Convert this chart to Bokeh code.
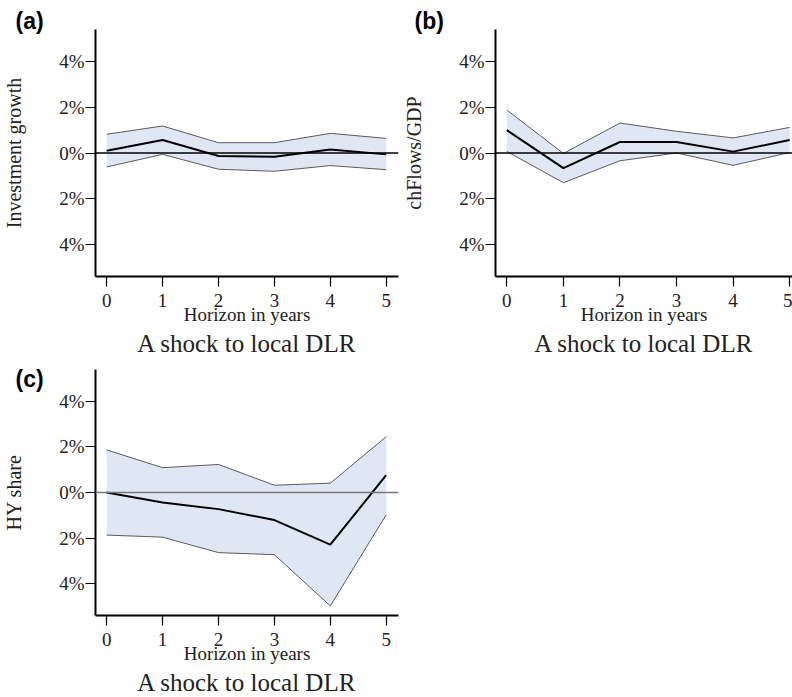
from bokeh.plotting import figure
from bokeh.layouts import column, row
from bokeh.models import Title, FixedTicker, Range1d, Span
from bokeh.embed import file_html
from bokeh.resources import INLINE

horizon = [0, 1, 2, 3, 4, 5]

inv_mean = [0.10, 0.57, -0.13, -0.16, 0.15, -0.06]
inv_upper = [0.82, 1.18, 0.45, 0.45, 0.86, 0.64]
inv_lower = [-0.61, -0.06, -0.71, -0.80, -0.55, -0.73]

flow_mean = [1.00, -0.66, 0.48, 0.48, 0.06, 0.57]
flow_upper = [1.88, -0.02, 1.31, 0.95, 0.66, 1.12]
flow_lower = [0.07, -1.30, -0.34, 0.00, -0.54, 0.02]

hy_mean = [0.00, -0.44, -0.73, -1.21, -2.29, 0.76]
hy_upper = [1.87, 1.09, 1.23, 0.32, 0.41, 2.45]
hy_lower = [-1.87, -1.96, -2.64, -2.73, -4.98, -0.98]

y_ticks = [-4, -2, 0, 2, 4]
y_tick_labels = {-4: "4%", -2: "2%", 0: "0%", 2: "2%", 4: "4%"}

panel_letters = ["(a)", "(b)", "(c)"]
y_titles = ["Investment growth", "chFlows/GDP", "HY share"]
x_title = "Horizon in years"
sub_title = "A shock to local DLR"

SERIF = "Liberation Serif"
FILL = "#dfe6f4"


def make_panel(letter, ytitle, mean, upper, lower, width, height, x_end,
               border_left, border_right, border_top, border_bottom,
               zero_color, zero_width, letter_offset, letter_standoff):
    p = figure(width=width, height=height, output_backend="svg",
               toolbar_location=None,
               x_range=Range1d(-0.2, x_end), y_range=Range1d(-5.4, 5.4),
               min_border_left=border_left, min_border_right=border_right,
               min_border_top=border_top, min_border_bottom=border_bottom,
               title=letter)
    p.outline_line_color = None
    p.background_fill_color = "white"
    p.grid.visible = False

    p.title.align = "left"
    p.title.offset = letter_offset
    p.title.standoff = letter_standoff
    p.title.text_font = "Liberation Sans"
    p.title.text_font_style = "bold"
    p.title.text_font_size = "23px"
    p.title.text_color = "black"

    p.varea(x=horizon, y1=lower, y2=upper, fill_color=FILL)
    p.line(horizon, upper, line_color="#333333", line_width=0.8)
    p.line(horizon, lower, line_color="#333333", line_width=0.8)
    p.add_layout(Span(location=0, dimension="width", line_color=zero_color,
                      line_width=zero_width))
    p.line(horizon, mean, line_color="black", line_width=2)

    for ax in (p.xaxis[0], p.yaxis[0]):
        ax.axis_line_width = 2
        ax.axis_line_color = "black"
        ax.major_tick_line_color = "black"
        ax.major_tick_line_width = 1.2
        ax.major_tick_in = 0
        ax.major_tick_out = 10
        ax.minor_tick_line_color = None
        ax.major_label_text_font = SERIF
        ax.major_label_text_font_size = "19px"
        ax.major_label_text_color = "#222222"
        ax.axis_label_text_font = SERIF
        ax.axis_label_text_font_style = "normal"
        ax.axis_label_text_color = "#222222"

    p.xaxis.ticker = FixedTicker(ticks=horizon)
    p.xaxis.major_label_standoff = 7
    p.xaxis.axis_label = x_title
    p.xaxis.axis_label_text_font_size = "19px"
    p.xaxis.axis_label_standoff = -6

    p.yaxis.ticker = FixedTicker(ticks=y_ticks)
    p.yaxis.major_label_standoff = 1
    p.yaxis.major_label_overrides = y_tick_labels
    p.yaxis.axis_label = ytitle
    p.yaxis.axis_label_text_font_size = "20px"
    p.yaxis.axis_label_standoff = 31

    p.add_layout(Title(text=sub_title, align="center", text_font=SERIF,
                       text_font_size="25px", text_font_style="normal",
                       text_color="#222222", standoff=0), "below")
    return p


fa = make_panel(panel_letters[0], y_titles[0], inv_mean, inv_upper, inv_lower,
                400, 359, 5.22, 95, 2, 29, 83, "black", 1.3, -80, -8)
fb = make_panel(panel_letters[1], y_titles[1], flow_mean, flow_upper, flow_lower,
                392, 359, 5.05, 89, 0, 29, 83, "black", 1.3, -81, -8)
fc = make_panel(panel_letters[2], y_titles[2], hy_mean, hy_upper, hy_lower,
                400, 338, 5.22, 95, 2, 10, 82, "#777777", 1.6, -80, -44)

layout = column(row(fa, fb), fc)

open("out.html", "w").write(file_html(layout, INLINE))
